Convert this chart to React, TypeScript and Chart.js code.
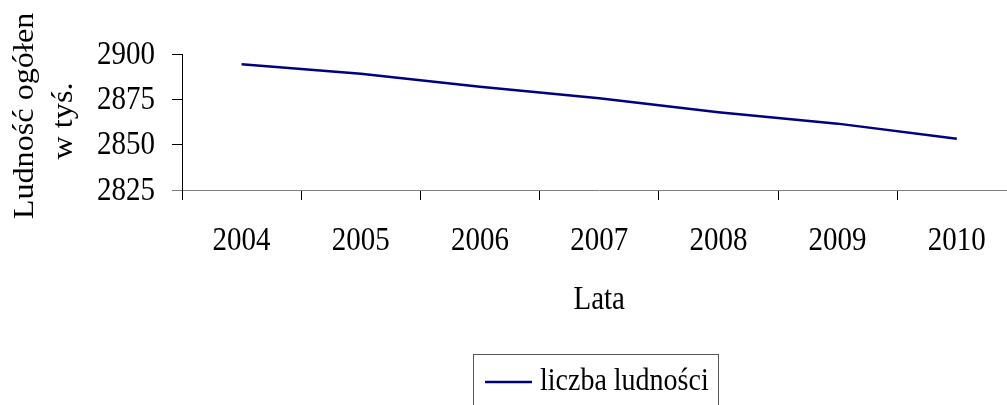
import React, { useEffect, useRef } from "react";
import { Chart, registerables } from "chart.js";

Chart.register(...registerables);

const categories = ["2004", "2005", "2006", "2007", "2008", "2009", "2010"];
const populationValues = [2894.3, 2889.1, 2882.0, 2875.6, 2867.9, 2861.6, 2853.3];
const yTickValues = [2825, 2850, 2875, 2900];
const seriesLabel = "liczba ludności";
const yTitleLines = ["Ludność ogółen", "w tyś."];
const xTitle = "Lata";

const FONT = "Liberation Serif, 'Times New Roman', serif";
const S = 1.15;
const S_TITLE = 1.11;

function drawStretched(ctx: CanvasRenderingContext2D, text: string, x: number, y: number, align: CanvasTextAlign, size: number) {
  ctx.save();
  ctx.translate(x, y);
  ctx.scale(1, S);
  ctx.font = `${size}px ${FONT}`;
  ctx.fillStyle = "#000";
  ctx.textAlign = align;
  ctx.textBaseline = "middle";
  ctx.fillText(text, 0, 0);
  ctx.restore();
}

const textPlugin = {
  id: "textPlugin",
  afterDraw(chart: any) {
    const ctx: CanvasRenderingContext2D = chart.ctx;
    const xs = chart.scales.x;
    const ys = chart.scales.y;
    yTickValues.forEach((v) => {
      drawStretched(ctx, String(v), 155, ys.getPixelForValue(v) + 1, "right", 29);
    });
    categories.forEach((c, i) => {
      drawStretched(ctx, c, xs.getPixelForValue(i), 241, "center", 29);
    });
    drawStretched(ctx, xTitle, (chart.chartArea.left + chart.chartArea.right) / 2, 300, "center", 29);
    const ybase = [33, 72];
    const ycent = [116, 121];
    yTitleLines.forEach((t, i) => {
      ctx.save();
      ctx.translate(ybase[i], ycent[i]);
      ctx.rotate(-Math.PI / 2);
      ctx.scale(S_TITLE, 1);
      ctx.font = `29px ${FONT}`;
      ctx.fillStyle = "#000";
      ctx.textAlign = "center";
      ctx.textBaseline = "alphabetic";
      ctx.fillText(t, 0, 0);
      ctx.restore();
    });
    ctx.save();
    ctx.strokeStyle = "#808080";
    ctx.lineWidth = 1;
    ctx.beginPath();
    ctx.moveTo(172, Math.round(chart.chartArea.bottom) + 0.5);
    ctx.lineTo(chart.chartArea.left, Math.round(chart.chartArea.bottom) + 0.5);
    ctx.stroke();
    ctx.restore();
    ctx.save();
    ctx.strokeStyle = "#555";
    ctx.lineWidth = 1;
    ctx.strokeRect(473.5, 354.5, 245, 60);
    ctx.strokeStyle = "#000080";
    ctx.lineWidth = 2.5;
    ctx.beginPath();
    ctx.moveTo(485, 382);
    ctx.lineTo(532, 382);
    ctx.stroke();
    ctx.restore();
    drawStretched(ctx, seriesLabel, 540, 382, "left", 28);
  },
};

export default function App() {
  const ref = useRef<HTMLCanvasElement | null>(null);
  useEffect(() => {
    if (!ref.current) return;
    const chart = new Chart(ref.current, {
      type: "line",
      data: {
        labels: categories,
        datasets: [
          {
            label: seriesLabel,
            data: populationValues,
            borderColor: "#000080",
            borderWidth: 2.5,
            pointRadius: 0,
            tension: 0,
            fill: false,
          },
        ],
      },
      options: {
        responsive: false,
        animation: false,
        layout: { padding: { left: 0, top: 54, right: 13.6, bottom: 0 } },
        plugins: { legend: { display: false }, tooltip: { enabled: false } },
        scales: {
          x: {
            type: "category",
            offset: true,
            grid: { display: true, drawOnChartArea: false, drawTicks: true, tickLength: 10, color: "#000", offset: true, lineWidth: 1 },
            border: { display: true, color: "#808080", width: 1 },
            ticks: { color: "rgba(0,0,0,0)", font: { size: 29 } },
            afterFit: (scale: any) => {
              scale.height = 215;
            },
          },
          y: {
            min: 2825,
            max: 2900,
            grid: { display: true, drawOnChartArea: false, drawTicks: true, tickLength: 10, color: "#000", lineWidth: 1 },
            border: { display: true, color: "#000", width: 1 },
            ticks: { stepSize: 25, color: "rgba(0,0,0,0)", font: { size: 29 } },
            afterFit: (scale: any) => {
              scale.width = 182;
            },
          },
        },
      },
      plugins: [textPlugin],
    });
    return () => chart.destroy();
  }, []);
  return (
    <div style={{ position: "fixed", left: 0, top: 0, width: 1007, height: 405, overflow: "hidden", background: "#fff" }}>
      <canvas ref={ref} width={1030} height={405} style={{ display: "block", width: 1030, height: 405 }} />
    </div>
  );
}
